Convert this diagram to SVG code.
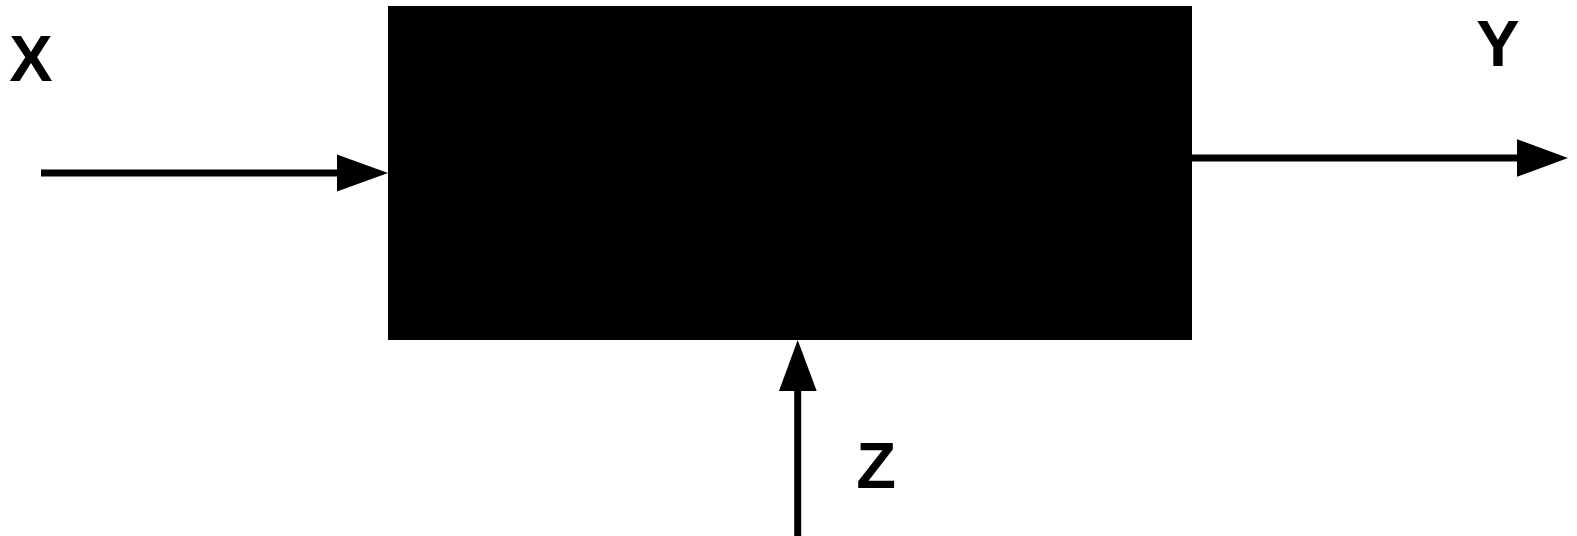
<svg xmlns="http://www.w3.org/2000/svg" width="1577" height="536" viewBox="0 0 1577 536">
<style>
.lbl{font-family:"Liberation Sans",Arial,sans-serif;font-weight:bold;font-size:65px;fill:#000;text-anchor:middle}
.ln{stroke:#000;stroke-width:7;fill:none}
.ah{fill:#000}
</style>
<rect width="1577" height="536" fill="#fff"/>
<g id="box"><rect x="388" y="6" width="804" height="334" fill="#000"/></g>
<g id="connectors">
<line class="ln" x1="41" y1="173" x2="340" y2="173"/>
<polygon class="ah" points="337,154.5 388,173 337,191.5"/>
<line class="ln" x1="1190" y1="158" x2="1520" y2="158"/>
<polygon class="ah" points="1517,139.3 1568,158 1517,176.7"/>
<line class="ln" x1="797.7" y1="536" x2="797.7" y2="388"/>
<polygon class="ah" points="779,391 797.7,340 816.7,391"/>
</g>
<g id="label-x"><text class="lbl" x="31" y="81">X</text></g>
<g id="label-y"><text class="lbl" x="1498" y="65.5">Y</text></g>
<g id="label-z"><text class="lbl" x="876" y="488">Z</text></g>
</svg>
